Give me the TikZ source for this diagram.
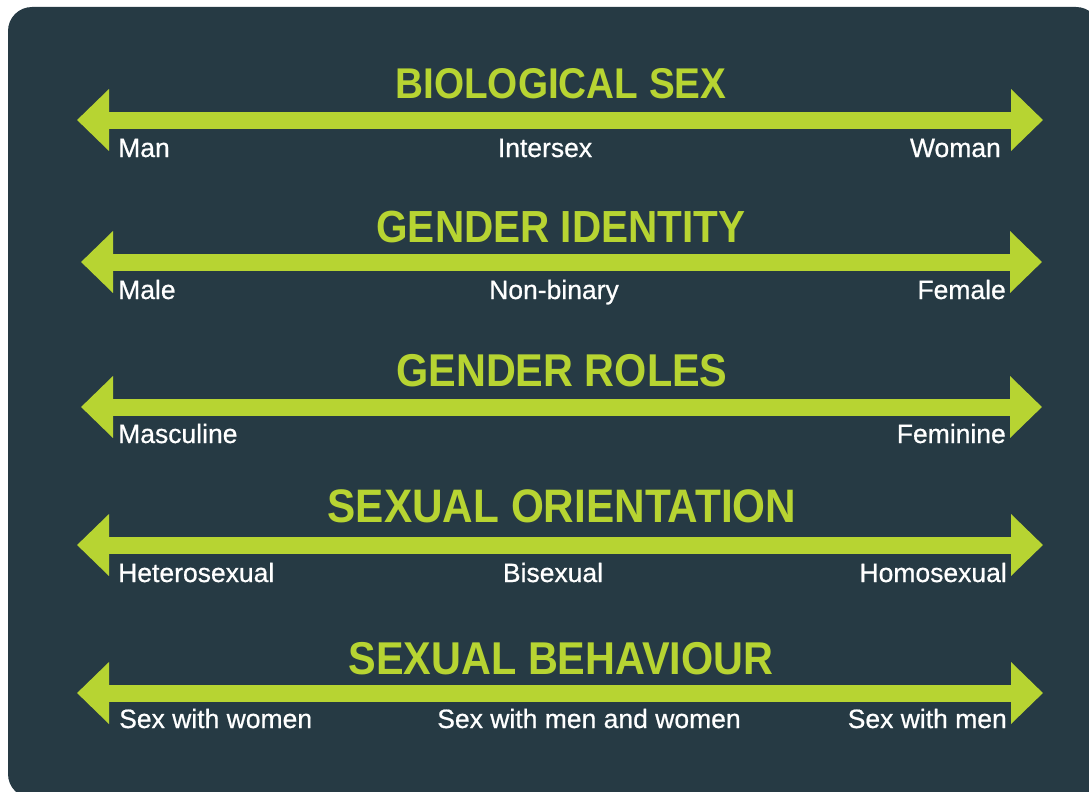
\documentclass[tikz,border=0pt]{standalone}
\usepackage{fontspec}
\setmainfont{Liberation Sans}
\newfontfamily\titlefont[FakeStretch=0.9]{Liberation Sans}
\newfontfamily\labelfont[FakeBold=0.7]{Liberation Sans}
\usetikzlibrary{arrows.meta}
\definecolor{panel}{HTML}{263A44}
\definecolor{lime}{HTML}{B7D432}
\tikzset{
  scalebar/.style={line width=17pt, lime,
    {Triangle[length=32pt,width=60pt]}-{Triangle[length=32pt,width=60pt]}},
  heading/.style={text=lime, inner sep=0pt, anchor=base},
  endlabel/.style={text=white, inner sep=0pt, font=\labelfont\fontsize{26.5}{26.5}\selectfont}
}
\newcommand{\myheadsize}[1]{\titlefont\bfseries\fontsize{#1}{#1}\selectfont}
\begin{document}
\begin{tikzpicture}[x=1pt,y=-1pt]
\useasboundingbox (0,0) rectangle (1089,792);
\fill[panel, rounded corners=24pt] (8,7) rectangle (1100,798);

% Row 1
\node[heading, font=\myheadsize{43}] (t1) at (561,98) {BIOLOGICAL SEX};
\coordinate (l1) at (77,120);
\coordinate (r1) at (1043,120);
\draw[scalebar] (l1) -- (r1);
\node[endlabel, anchor=base west] (a1) at (118,157) {Man};
\node[endlabel, anchor=base] (b1) at (545,157) {Intersex};
\node[endlabel, anchor=base east] (c1) at (1001,157) {Woman};

% Row 2
\node[heading, font=\myheadsize{45}] (t2) at (561,242) {GENDER IDENTITY};
\coordinate (l2) at (81,262);
\coordinate (r2) at (1042,262);
\draw[scalebar] (l2) -- (r2);
\node[endlabel, anchor=base west] (a2) at (118,299) {Male};
\node[endlabel, anchor=base] (b2) at (554,299) {Non-binary};
\node[endlabel, anchor=base east] (c2) at (1006,299) {Female};

% Row 3
\node[heading, font=\myheadsize{46}] (t3) at (562,386) {GENDER ROLES};
\coordinate (l3) at (81,407);
\coordinate (r3) at (1042,407);
\draw[scalebar] (l3) -- (r3);
\node[endlabel, anchor=base west] (a3) at (118,443) {Masculine};
\node[endlabel, anchor=base east] (c3) at (1006,443) {Feminine};

% Row 4
\node[heading, font=\myheadsize{47}] (t4) at (562,522) {SEXUAL ORIENTATION};
\coordinate (l4) at (77,545);
\coordinate (r4) at (1043,545);
\draw[scalebar] (l4) -- (r4);
\node[endlabel, anchor=base west] (a4) at (118,582) {Heterosexual};
\node[endlabel, anchor=base] (b4) at (553,582) {Bisexual};
\node[endlabel, anchor=base east] (c4) at (1007,582) {Homosexual};

% Row 5
\node[heading, font=\myheadsize{46}] (t5) at (561,674) {SEXUAL BEHAVIOUR};
\coordinate (l5) at (77,693);
\coordinate (r5) at (1043,693);
\draw[scalebar] (l5) -- (r5);
\node[endlabel, anchor=base west] (a5) at (119,728) {Sex with women};
\node[endlabel, anchor=base] (b5) at (589,728) {Sex with men and women};
\node[endlabel, anchor=base east] (c5) at (1007,728) {Sex with men};
\end{tikzpicture}
\end{document}
